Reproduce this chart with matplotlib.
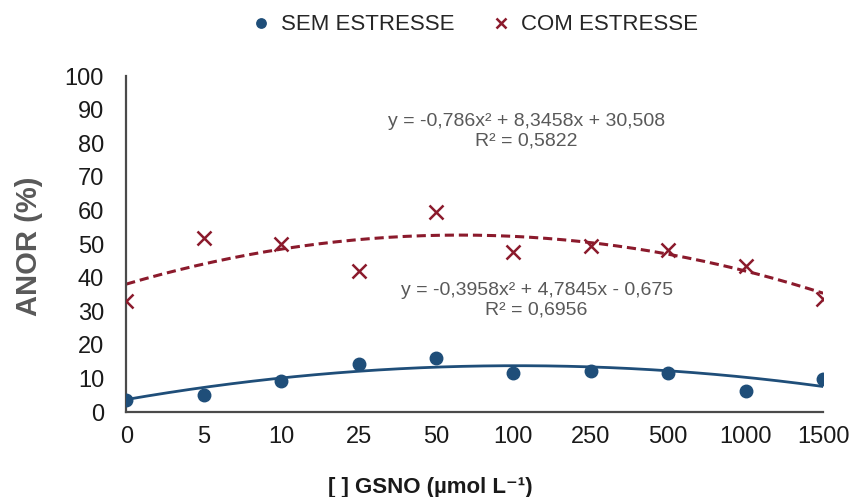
import numpy as np
import matplotlib
matplotlib.use("Agg")
import matplotlib.pyplot as plt

plt.rcParams['font.family'] = ['Liberation Sans', 'DejaVu Sans']

# dados
doses = ['0', '5', '10', '25', '50', '100', '250', '500', '1000', '1500']
sem_estresse = [3.6, 5.1, 9.2, 14.2, 16.0, 11.7, 12.2, 11.7, 6.3, 9.9]
com_estresse = [33.0, 51.7, 49.9, 42.1, 59.4, 47.7, 49.4, 48.2, 43.5, 33.6]

# linhas de tendencia polinomiais (Excel, x = 1..10)
coef_sem = [-0.3958, 4.7845, -0.675]
coef_com = [-0.786, 8.3458, 30.508]
eq_sem = 'y = -0,3958x² + 4,7845x - 0,675\nR² = 0,6956'
eq_com = 'y = -0,786x² + 8,3458x + 30,508\nR² = 0,5822'

azul = '#1f4e79'
vermelho = '#8b1a2c'
cinza = '#595959'


def main():
    fig = plt.figure(figsize=(8.53, 4.97), dpi=100)
    ax = fig.add_axes([0.148, 0.171, 0.817, 0.676])

    x = np.arange(1, len(doses) + 1)
    xs = np.linspace(1, len(doses), 200)

    ax.plot(xs, np.polyval(coef_sem, xs), color=azul, lw=2)
    ax.plot(xs, np.polyval(coef_com, xs), color=vermelho, lw=2.2, linestyle=(0, (3, 1.6)))

    ax.plot(x, sem_estresse, 'o', color=azul, ms=9, label='SEM ESTRESSE', zorder=3)
    ax.plot(x, com_estresse, 'x', color=vermelho, ms=10, mew=1.8, label='COM ESTRESSE', zorder=3)

    ax.set_xlim(1, len(doses))
    ax.set_ylim(0, 100)
    ax.set_yticks(range(0, 101, 10))
    ax.set_xticks(x)
    ax.set_xticklabels(doses)
    ax.tick_params(axis='both', length=0, labelsize=17, colors='#1a1a1a')
    ax.tick_params(axis='y', pad=16)
    ax.tick_params(axis='x', pad=10)

    for s in ['top', 'right']:
        ax.spines[s].set_visible(False)
    for s in ['left', 'bottom']:
        ax.spines[s].set_color('#4a4a4a')
        ax.spines[s].set_linewidth(1.6)

    ax.text(6.17, 83.6, eq_com, ha='center', va='center', fontsize=14,
            color=cinza, linespacing=1.15)
    ax.text(6.30, 33.2, eq_sem, ha='center', va='center', fontsize=14,
            color=cinza, linespacing=1.15)

    fig.text(29.5 / 853, 1 - 246.7 / 497, 'ANOR (%)', rotation=90, ha='center',
             va='center', fontsize=21, fontweight='bold', color=cinza)
    fig.text(0.505, 1 - 487 / 497, '[ ] GSNO (µmol L⁻¹)', ha='center', va='center',
             fontsize=16, fontweight='bold', color='#1a1a1a')

    fig.legend(loc='center', bbox_to_anchor=(0.556, 1 - 25 / 497), ncol=2,
               frameon=False, fontsize=16, markerscale=0.75, handlelength=1.0,
               handletextpad=0.4, columnspacing=1.6, labelcolor='#262626')

    fig.savefig('out.png', dpi=100)


if __name__ == "__main__":
    main()
